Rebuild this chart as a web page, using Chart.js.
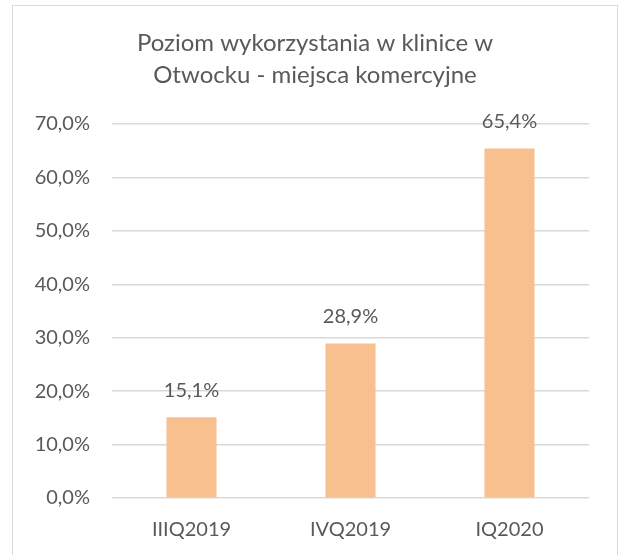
<!DOCTYPE html>
<html>
<head>
<meta charset="utf-8">
<script src="https://cdn.jsdelivr.net/npm/chart.js@4"></script>
<style>
  html, body { margin: 0; padding: 0; background: #fff; }
  #wrap { position: relative; width: 622px; height: 555px; }
  #frame { position: absolute; left: 12px; top: 5px; width: 604px; height: 560px;
           border: 1px solid #D9D9D9; border-bottom: none; pointer-events: none; }
  canvas { position: absolute; left: 0; top: 0; }
</style>
</head>
<body>
<div id="wrap">
  <canvas id="c" width="622" height="555"></canvas>
  <div id="frame"></div>
</div>
<script>
const categories = ["IIIQ2019", "IVQ2019", "IQ2020"];
const values = [15.1, 28.9, 65.4];
const titleLines = ["Poziom wykorzystania w klinice w", "Otwocku - miejsca komercyjne"];
const yTicks = [0, 10, 20, 30, 40, 50, 60, 70];

const FONT = "Lato, 'Open Sans', sans-serif";
const TEXT = "#595959";
const fmt = v => v.toFixed(1).replace(".", ",") + "%";

const labelPlugin = {
  id: "valueLabels",
  afterDatasetsDraw(chart) {
    const ctx = chart.ctx;
    const meta = chart.getDatasetMeta(0);
    ctx.save();
    ctx.font = "20px " + FONT;
    ctx.fillStyle = TEXT;
    ctx.textAlign = "center";
    ctx.textBaseline = "middle";
    meta.data.forEach((bar, i) => {
      ctx.fillText(fmt(values[i]), bar.x, bar.y - 27);
    });
    ctx.restore();
  }
};

new Chart(document.getElementById("c"), {
  type: "bar",
  data: {
    labels: categories,
    datasets: [{
      data: values,
      backgroundColor: "#F8C08E",
      borderWidth: 0,
      categoryPercentage: 1,
      barPercentage: 0.315
    }]
  },
  options: {
    responsive: false,
    animation: false,
    devicePixelRatio: 1,
    layout: { padding: { left: 8, right: 0, top: 0, bottom: 0 } },
    plugins: {
      legend: { display: false },
      tooltip: { enabled: false },
      title: {
        display: true,
        text: titleLines,
        color: TEXT,
        font: { family: FONT, size: 24, weight: "normal", lineHeight: 1.333 },
        padding: { top: 27, bottom: 33 }
      }
    },
    scales: {
      x: {
        grid: { display: false, drawTicks: false },
        border: { display: false },
        ticks: { color: TEXT, font: { family: FONT, size: 20 }, padding: 20 },
        afterFit(scale) { scale.height = 57; }
      },
      y: {
        min: 0, max: 70,
        afterBuildTicks(scale) { scale.ticks = yTicks.map(v => ({ value: v })); },
        grid: { color: "#D9D9D9", lineWidth: 1.5, drawTicks: false },
        border: { display: false },
        ticks: { color: TEXT, font: { family: FONT, size: 20 }, padding: 22,
                 callback: v => fmt(v) },
        afterFit(scale) { scale.width = 104; }
      },
      yRightSpace: {
        position: "right",
        display: true,
        grid: { display: false, drawTicks: false },
        border: { display: false },
        ticks: { display: false },
        afterFit(scale) { scale.width = 33; }
      }
    }
  },
  plugins: [labelPlugin]
});
</script>
</body>
</html>
